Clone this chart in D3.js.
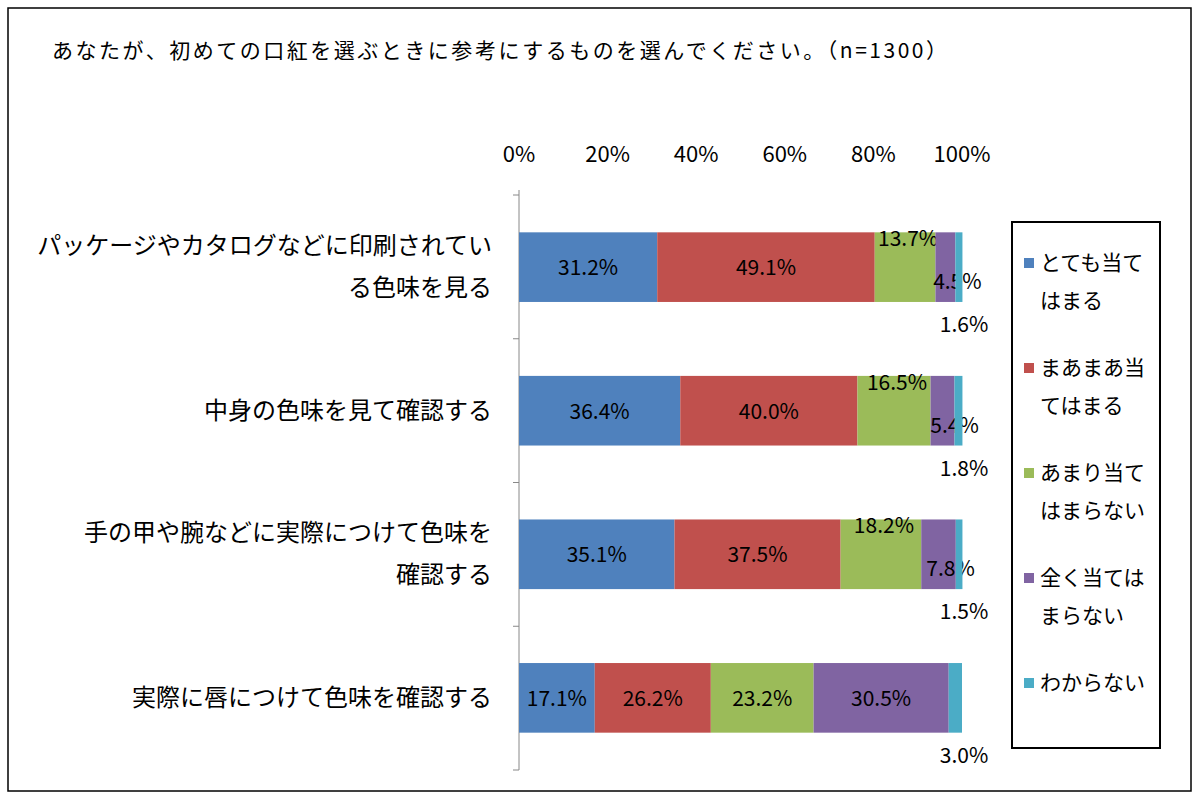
<!DOCTYPE html>
<html><head><meta charset="utf-8">
<script src="https://cdn.jsdelivr.net/npm/d3@7"></script>
<style>body{margin:0;background:#fff}text{font-family:"Noto Sans CJK JP",sans-serif;fill:#000}</style>
</head><body><svg id="c" width="1200" height="800"></svg>
<script>
const title = "あなたが、初めての口紅を選ぶときに参考にするものを選んでください。（n=1300）";
const categories = [
  ["パッケージやカタログなどに印刷されてい","る色味を見る"],
  ["中身の色味を見て確認する"],
  ["手の甲や腕などに実際につけて色味を","確認する"],
  ["実際に唇につけて色味を確認する"]
];
const seriesNames = [["とても当て","はまる"],["まあまあ当","てはまる"],["あまり当て","はまらない"],["全く当ては","まらない"],["わからない"]];
const colors = ["#4F81BD","#C0504D","#9BBB59","#8064A2","#4BACC6"];
const values = [
  [31.2,49.1,13.7,4.5,1.6],
  [36.4,40.0,16.5,5.4,1.8],
  [35.1,37.5,18.2,7.8,1.5],
  [17.1,26.2,23.2,30.5,3.0]
];
const ticks = [0,20,40,60,80,100];

const svg = d3.select("#c");
svg.append("rect").attr("x",8).attr("y",8).attr("width",1183).attr("height",783).attr("fill","none").attr("stroke","#000").attr("stroke-width",1.5);
svg.append("text").attr("x",52).attr("y",58).attr("font-size",21).attr("textLength",895).text(title);

const x = d3.scaleLinear().domain([0,100]).range([519,962]);
const y = d3.scaleBand().domain(d3.range(categories.length)).range([195,770]).paddingInner(0.515).paddingOuter(0.26);

svg.append("g").selectAll("text").data(ticks).join("text")
  .attr("x",d=>x(d)).attr("y",162).attr("text-anchor","middle").attr("font-size",22).text(d=>d+"%");

svg.append("line").attr("x1",519).attr("x2",519).attr("y1",190).attr("y2",770).attr("stroke","#888");
const bounds = [0,1,2,3,4].map(i=>195+i*143.75);
svg.append("g").selectAll("line").data(bounds).join("line")
  .attr("x1",513).attr("x2",519).attr("y1",d=>d).attr("y2",d=>d).attr("stroke","#888");

categories.forEach((lines,i)=>{
  const cy = y(i)+y.bandwidth()/2;
  const t = svg.append("text").attr("text-anchor","end").attr("font-size",24);
  lines.forEach((l,j)=>t.append("tspan").attr("x",492).attr("y",cy+8+(j-(lines.length-1)/2)*42).text(l));
});

values.forEach((row,i)=>{
  let acc=0;
  const y0=y(i), h=y.bandwidth();
  row.forEach((v,k)=>{
    const a=acc; acc+=v;
    svg.append("rect").attr("x",x(a)).attr("y",y0).attr("width",x(acc)-x(a)).attr("height",h).attr("fill",colors[k]);
    const mid=(x(a)+x(acc))/2;
    let lx=mid, ly=y0+h/2+8;
    if(k===4){lx=x(100)+2;ly=y0+h+30;}
    else if(v<20 && k>=2){ if(k===2){ly=y0+14; lx=mid+3;} else {ly=y0+h/2+22; lx=mid+12;} }
    svg.append("text").attr("x",lx).attr("y",ly).attr("text-anchor","middle").attr("font-size",21).text(v.toFixed(1)+"%");
  });
});

svg.append("rect").attr("x",1012).attr("y",222).attr("width",148).attr("height",526).attr("fill","#fff").attr("stroke","#000").attr("stroke-width",2);
seriesNames.forEach((lines,k)=>{
  const ty=270+k*105;
  svg.append("rect").attr("x",1024).attr("y",ty-12).attr("width",10).attr("height",10).attr("fill",colors[k]);
  const t=svg.append("text").attr("font-size",21);
  lines.forEach((l,j)=>t.append("tspan").attr("x",1040).attr("y",ty+j*38).text(l));
});
</script></body></html>
